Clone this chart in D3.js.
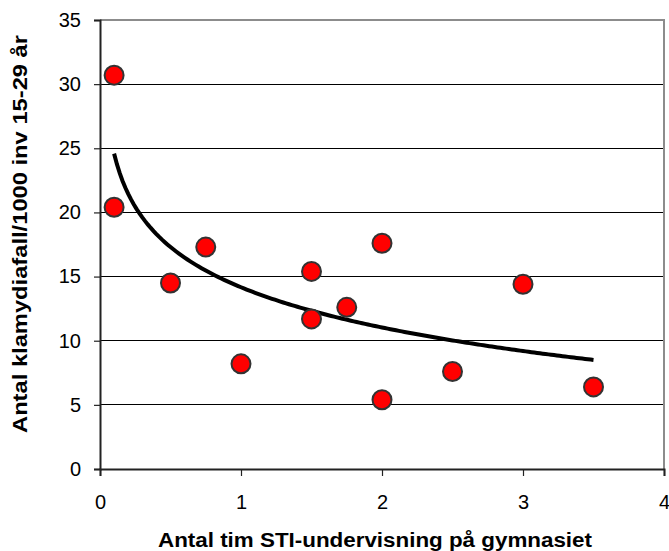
<!DOCTYPE html>
<html>
<head>
<meta charset="utf-8">
<script src="https://cdn.jsdelivr.net/npm/d3@7"></script>
<style>
  body { margin: 0; background: #fff; }
  svg text { font-family: "Liberation Sans", Arial, sans-serif; fill: #000; }
</style>
</head>
<body>
<div id="chart"></div>
<script>
// data
var hours = [0.1, 0.1, 0.5, 0.75, 1, 1.5, 1.5, 1.75, 2, 2, 2.5, 3, 3.5];
var cases = [30.7, 20.4, 14.5, 17.3, 8.2, 15.4, 11.7, 12.6, 17.6, 5.4, 7.6, 14.4, 6.4];
var xTicks = [0, 1, 2, 3, 4];
var yTicks = [0, 5, 10, 15, 20, 25, 30, 35];

var svgWidth = 669, svgHeight = 551;
var plotLeft = 100, plotTop = 20, plotRight = 664, plotBottom = 469;

var svg = d3.select("#chart").append("svg")
    .attr("width", svgWidth)
    .attr("height", svgHeight);

var x = d3.scaleLinear().domain([0, 4]).range([plotLeft, plotRight]);
var y = d3.scaleLinear().domain([0, 35]).range([plotBottom, plotTop]);

// gridlines
svg.append("g")
    .selectAll("line")
    .data(yTicks.filter(function(d) { return d > 0 && d < 35; }))
    .enter().append("line")
    .attr("x1", plotLeft).attr("x2", plotRight)
    .attr("y1", function(d) { return y(d); })
    .attr("y2", function(d) { return y(d); })
    .attr("stroke", "#000")
    .attr("stroke-width", 1)
    .attr("shape-rendering", "crispEdges");

// plot border top + right (grey)
svg.append("path")
    .attr("d", "M" + plotLeft + "," + y(35) + "H" + plotRight + "V" + plotBottom)
    .attr("fill", "none")
    .attr("stroke", "#8c8c8c")
    .attr("stroke-width", 2);

// axes
var xAxis = svg.append("g")
    .attr("transform", "translate(0," + plotBottom + ")")
    .call(d3.axisBottom(x).tickValues(xTicks).tickSize(7).tickPadding(19).tickFormat(d3.format("d")));
var yAxis = svg.append("g")
    .attr("transform", "translate(" + plotLeft + ",0)")
    .call(d3.axisLeft(y).tickValues(yTicks).tickSize(6).tickPadding(13).tickFormat(d3.format("d")));

[xAxis, yAxis].forEach(function(a) {
    a.select(".domain").attr("stroke", "#222").attr("stroke-width", 2);
    a.selectAll(".tick line").attr("stroke", "#222").attr("stroke-width", 1.2);
    a.selectAll("text")
        .attr("font-size", 20)
        .attr("font-family", "Liberation Sans, Arial, sans-serif")
        .attr("fill", "#000");
});

// logarithmic trend line fitted to the points
var lx = hours.map(Math.log);
var mx = d3.mean(lx), my = d3.mean(cases);
var sxy = d3.sum(lx, function(v, i) { return (v - mx) * (cases[i] - my); });
var sxx = d3.sum(lx, function(v) { return (v - mx) * (v - mx); });
var b = sxy / sxx, a = my - b * mx;
var trendX = d3.range(0.1, 3.5001, 0.02);

svg.append("path")
    .datum(trendX)
    .attr("fill", "none")
    .attr("stroke", "#000")
    .attr("stroke-width", 4)
    .attr("d", d3.line()
        .x(function(d) { return x(d); })
        .y(function(d) { return y(a + b * Math.log(d)); }));

// points
svg.append("g")
    .selectAll("circle")
    .data(hours)
    .enter().append("circle")
    .attr("cx", function(d) { return x(d); })
    .attr("cy", function(d, i) { return y(cases[i]); })
    .attr("r", 9.5)
    .attr("fill", "#ff0000")
    .attr("stroke", "#333")
    .attr("stroke-width", 2);

// axis titles
svg.append("text")
    .attr("x", 375)
    .attr("y", 547)
    .attr("text-anchor", "middle")
    .attr("font-size", 20)
    .attr("font-weight", "bold")
    .attr("textLength", 434)
    .attr("lengthAdjust", "spacingAndGlyphs")
    .text("Antal tim STI-undervisning på gymnasiet");

svg.append("text")
    .attr("transform", "translate(27,234) rotate(-90)")
    .attr("text-anchor", "middle")
    .attr("font-size", 20)
    .attr("font-weight", "bold")
    .attr("textLength", 398)
    .attr("lengthAdjust", "spacingAndGlyphs")
    .text("Antal klamydiafall/1000 inv 15-29 år");
</script>
</body>
</html>
